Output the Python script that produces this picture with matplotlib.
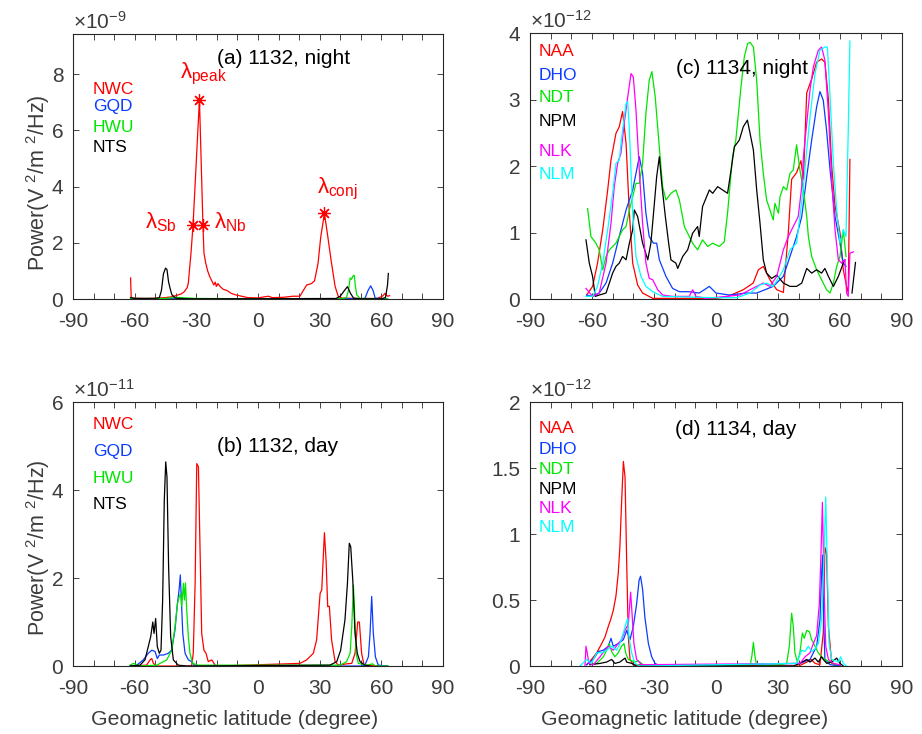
import numpy as np
import matplotlib
matplotlib.use('Agg')
import matplotlib.pyplot as plt
from matplotlib.ticker import MultipleLocator

plt.rcParams['font.family'] = ['Liberation Sans', 'DejaVu Sans']
plt.rcParams['mathtext.fontset'] = 'custom'
plt.rcParams['mathtext.rm'] = 'Liberation Sans'
plt.rcParams['mathtext.it'] = 'Liberation Sans'
plt.rcParams['mathtext.bf'] = 'Liberation Sans:bold'
plt.rcParams['axes.unicode_minus'] = False

RED = '#ff0000'
BLUE = '#0a3cff'
GREEN = '#00e600'
BLACK = '#000000'
MAGENTA = '#ff00ff'
CYAN = '#00ffff'
AX_COLOR = '#262626'
TXT_COLOR = '#3c3c3c'

# (a) 1132, night  -- values in 1e-9
a_nwc_lat = [-62, -61.7, -60, -55, -50, -45, -42, -40, -37.5, -36, -34.5, -33.9, -32.6, -31.6, -28.5,
             -26.8, -26.3, -25.5, -24.5, -23.5, -22.5, -21.5, -20.8, -20.3, -19.5, -18.5, -17, -15, -13,
             -11, -8, -5, 0, 5, 7, 12, 17, 20.4, 22, 23.7, 26, 27.5, 29.2, 30.5, 32.3, 33.8, 35.5, 37.5,
             39, 41, 50, 58, 60.5, 61.8, 63, 64]
a_nwc_pow = [0.75, 0.05, 0.03, 0.02, 0.03, 0.05, 0.08, 0.12, 0.18, 0.25, 0.4, 0.57, 1.64, 2.65, 7.1,
             2.65, 1.64, 1.3, 1.0, 0.8, 0.65, 0.5, 0.6, 0.45, 0.55, 0.45, 0.35, 0.3, 0.2,
             0.15, 0.1, 0.05, 0.04, 0.1, 0.05, 0.06, 0.1, 0.1, 0.3, 0.5, 0.55, 0.65, 1.27, 2.2, 3.05, 2.3,
             1.4, 0.45, 0.1, 0.03, 0.02, 0.02, 0.1, 0.2, 0.1, 0.12]
a_gqd_lat = [-62, -45, -40, -36, 50, 52, 53.5, 54.8, 56, 57, 63]
a_gqd_pow = [0.01, 0.01, 0.03, 0.01, 0.01, 0.02, 0.3, 0.47, 0.3, 0.03, 0.01]
a_hwu_lat = [-62, -45, -40, -35, -30, 0, 40, 43, 44, 44.8, 45.5, 46, 46.8, 47.3, 48, 49.6, 63]
a_hwu_pow = [0.02, 0.02, 0.06, 0.04, 0.02, 0.01, 0.01, 0.05, 0.3, 0.75, 0.7, 0.8, 0.85, 0.5, 0.15, 0.02, 0.01]
a_nts_lat = [-62, -60, -50, -48, -47, -46, -45, -44.3, -43.5, -42.5, -41.9, -40, -35, 0, 38, 40, 42,
             43.5, 45, 46.5, 50, 60, 62, 63, 63.4]
a_nts_pow = [0.05, 0.02, 0.02, 0.05, 0.3, 0.9, 1.1, 1.05, 0.6, 0.3, 0.15, 0.03, 0.01, 0.01, 0.02, 0.1, 0.3,
             0.44, 0.2, 0.03, 0.01, 0.01, 0.05, 0.5, 0.91]
# marked latitudes in (a): peak, south boundary, north boundary, conjugate
a_mark_lat = [-28.5, -31.6, -26.8, 32.3]
a_mark_pow = [7.1, 2.65, 2.65, 3.05]

# (b) 1132, day  -- values in 1e-11
b_nwc_lat = [-62, -54.2, -52.5, -51.7, -50.9, -49.3, -32.3, -31.5, -30.6, -29.8, -29, -28.2, -27.4,
             -26.3, -25.3, -24.2, -22.5, -20.9, -19.3, 20.4, 23.7, 26.9, 28.5, 30.2, 31, 32.3, 33.1,
             33.9, 34.7, 35.8, 37.5, 39.1, 43.1, 45.6, 47.2, 48.5, 49.3, 50.4, 51.6, 63]
b_nwc_pow = [0, 0.02, 0.14, 0.17, 0.06, 0, 0, 0.29, 1.88, 4.6, 4.53, 2.64, 0.74,
             0.36, 0.29, 0.1, 0.14, 0.02, 0, 0.06, 0.14, 0.29, 0.59, 1.65, 1.73, 3.03, 2.41,
             1.35, 1.36, 0.59, 0.1, 0.02, 0.05, 0.06, 0.29, 1.0, 1.0, 0.29, 0.02, 0]
b_gqd_lat = [-62, -59, -55.8, -53.4, -51.7, -50.1, -49, -48, -46, -43.6, -42, -40.4, -39.2, -38.4,
             -37.8, -37.3, -36.6, -35.5, -33.9, -32.3, -30.6, 35, 50, 52, 53.7, 54.5, 55.3, 56.1,
             57.1, 58.5, 63]
b_gqd_pow = [0, 0.02, 0.14, 0.29, 0.36, 0.33, 0.17, 0.25, 0.25, 0.29, 0.36, 0.82, 1.42, 1.73,
             2.07, 1.5, 0.74, 0.29, 0.14, 0.1, 0, 0, 0, 0.02, 0.21, 0.74, 1.58, 0.74,
             0.21, 0.02, 0]
b_hwu_lat = [-62.3, -60.6, -57.4, -49.3, -44.4, -42, -40.4, -39.2, -38.3, -37.6, -37.1, -36.3, -35.8,
             -35.3, -34.7, -33.9, -33.1, -31.8, -29, 39.9, 43.1, 44.8, 45.6, 46.4, 47, 47.7, 48.8,
             52.9, 55.8, 56.9, 63.4]
b_hwu_pow = [0.02, 0.06, 0, 0.02, 0.14, 0.36, 0.89, 1.42, 1.58, 1.65, 1.35, 1.88, 1.5,
             1.89, 1.27, 0.67, 0.29, 0.06, 0.02, 0.02, 0.1, 0.29, 0.89, 1.84, 1.2, 0.29, 0.06,
             0.02, 0.05, 0, 0]
b_nts_lat = [-62.3, -57.4, -55, -53.4, -52.2, -51.2, -50.6, -49.8, -49, -48, -47.2, -46.4, -45.6,
             -44.9, -44.3, -43.5, -42.5, -41.2, -38.8, -34.7, 35, 38.3, 40.2, 42.3, 43.5, 44.4, 45.1,
             46.1, 47.2, 48.3, 49.6, 52, 54.5]
b_nts_pow = [0, 0.02, 0.14, 0.44, 0.67, 1.0, 0.74, 1.08, 0.44, 0.29, 0.36, 1.5, 3.77,
             4.64, 4.3, 2.26, 0.67, 0.14, 0.02, 0, 0.02, 0.1, 0.36, 1.05, 1.88, 2.79, 2.71,
             1.95, 0.74, 0.29, 0.1, 0.02, 0]

# (c) 1134, night  -- values in 1e-12
c_naa_lat = [-62.6, -59.7, -57.3, -54.8, -52.4, -50.8, -48.4, -46.8, -45.2, -43.5, -41.9, -40.3, -37.9,
             -35.5, -30.6, -20, -10, 0, 5, 13.2, 18, 20.5, 22.9, 26.1, 29.4, 32.6, 35, 36.6, 39, 41.1,
             42.3, 43.9, 46.3, 48.7, 51.1, 52.7, 54.4, 56, 57.6, 60, 61.6, 63.2, 64, 64.8]
c_naa_pow = [0.06, 0.19, 0.54, 1.04, 1.64, 2.09, 2.49, 2.59, 2.82, 2.34, 1.29, 0.54, 0.21,
             0.09, 0.01, 0.01, 0.01, 0.01, 0.03, 0.14, 0.24, 0.44, 0.49, 0.29, 0.14, 0.1, 1.0, 1.8, 1.9, 2.08,
             1.8, 3.1, 3.31, 3.56, 3.61, 3.56, 3.0, 2.0, 1.4, 1.0, 0.44, 0.19, 0.09, 2.1]
c_dho_lat = [-62.6, -59.7, -56.5, -53.2, -50, -46.8, -43.5, -40.3, -38.7, -37.1, -35.5, -33.9, -32.3,
             -30.3, -28.7, -27.4, -24.2, -21, -17.7, -12.9, -8.1, -3.2, 0, 6.5, 14.5, 19.7, 27.7, 32.6,
             35.8, 39, 41.5, 43.9, 46.3, 48.7, 50.3, 51.9, 53.5, 55.2, 57.6, 60, 61.6, 62.9]
c_dho_pow = [0.06, 0.04, 0.09, 0.24, 0.54, 0.94, 1.34, 1.64, 1.89, 2.14, 1.89, 1.29, 0.94,
             0.84, 0.84, 0.59, 0.34, 0.16, 0.11, 0.11, 0.09, 0.19, 0.09, 0.06, 0.09, 0.09, 0.19, 0.34,
             0.64, 0.94, 1.24, 1.84, 2.39, 2.89, 3.12, 2.99, 2.54, 1.94, 1.24, 0.84, 0.54, 0.49]
c_ndt_lat = [-62.1, -60.5, -58.1, -56.5, -54.8, -53.2, -51.6, -48.4, -46.8, -45.2, -43.5, -41.9, -40.3,
             -38.7, -37.1, -35.5, -33.9, -32.3, -31, -29.4, -27.7, -25.8, -24.2, -21.8, -19.4, -17.7,
             -15.3, -13.7, -11.3, -8.9, -6.5, -4, -1.6, 1.6, 4, 5.6, 8, 9.6, 12.1, 13.7, 15.3, 16.5,
             18.1, 19.7, 21.3, 22.9, 24.5, 26.1, 27.7, 28.5, 30.2, 31, 32.6, 34.2, 35.8, 37.4, 39,
             40.6, 42.3, 43.9, 44.7, 46.3, 48.7, 51.1, 53.5, 55.2, 56.8, 58.4, 60, 61.6, 62.9]
c_ndt_pow = [1.36, 0.94, 0.84, 0.74, 0.44, 0.64, 0.74, 0.84, 0.94, 1.04, 1.09, 1.34, 1.54,
             1.74, 1.74, 2.04, 2.79, 3.29, 3.42, 3.04, 2.39, 1.69, 1.49, 1.59, 1.64, 1.49,
             1.09, 0.99, 0.84, 0.74, 0.89, 0.79, 0.84, 0.79, 0.86, 1.29, 2.14, 2.39, 3.19, 3.64, 3.84, 3.86,
             3.79, 3.29, 2.39, 1.89, 1.49, 1.34, 1.19, 1.44, 1.29, 1.54, 1.69, 1.64, 1.89, 1.94, 2.32,
             1.94, 1.64, 1.24, 0.94, 0.64, 0.44, 0.29, 0.14, 0.09, 0.24, 0.49, 0.64, 1.04, 0.64]
c_npm_lat = [-62.9, -61.3, -59.7, -58.4, -56.5, -53.2, -51.6, -50, -48.4, -46.8, -45.2, -43.5, -41.9,
             -40.3, -39.5, -37.9, -35.5, -33, -31.5, -29.8, -28.7, -27.4, -26.1, -24.5, -22.9, -21.8,
             -19.4, -18.5, -16.1, -13.7, -11.3, -8.9, -8.1, -6.5, -3.2, -1.6, 0.8, 3.2, 5.6, 7.3, 8.9,
             11.3, 13.2, 15.2, 16.5, 18.1, 19.7, 21.3, 22.9, 24.5, 26.9, 29.4, 32.6, 35.8, 39, 41.5,
             43.9, 46.3, 48.7, 51.1, 52.7, 54.4, 56.8, 59.2, 61.6, 62.4, np.nan, 65.8, 67.5]
c_npm_pow = [0.89, 0.54, 0.34, 0.04, 0.06, 0.09, 0.24, 0.39, 0.49, 0.54, 0.64, 0.59, 0.84,
             1.04, 1.34, 1.24, 0.84, 0.59, 0.84, 1.44, 1.84, 2.14, 1.69, 1.24, 0.84, 0.59,
             0.54, 0.46, 0.64, 0.74, 0.99, 1.09, 0.94, 1.39, 1.64, 1.59, 1.69, 1.64, 1.59, 1.94, 2.29,
             2.39, 2.59, 2.69, 2.49, 2.24, 1.64, 1.14, 0.59, 0.39, 0.31, 0.36, 0.24, 0.19, 0.19, 0.24,
             0.46, 0.39, 0.44, 0.39, 0.46, 0.34, 0.19, 0.34, 0.54, 0.59, np.nan, 0.09, 0.55]
c_nlk_lat = [-62.9, -59.7, -56.5, -53.2, -50.8, -49.2, -47.6, -46, -44.4, -42.7, -41.1, -40, -38.7,
             -37.1, -35.5, -33.9, -32.3, -30.6, -28.2, -25.8, -21, -12.9, -11.3, -9.7, -4.8, 11.6,
             16.5, 19.7, 22.9, 26.1, 29.4, 32.6, 35, 37.4, 39.8, 41.5, 42.3, 43.9, 45.5, 47.1, 49.5,
             51.1, 52.7, 54.4, 56, 57.6, 59.2, 60.8, 62.4, 63.2, 64, 64.8, 66.5]
c_nlk_pow = [0.16, 0.04, 0.09, 0.54, 1.14, 1.69, 2.04, 2.19, 2.64, 3.04, 3.39, 3.34, 2.84,
             1.94, 1.14, 0.54, 0.31, 0.29, 0.14, 0.06, 0.04, 0.04, 0.14, 0.04, 0.01, 0.06,
             0.14, 0.19, 0.24, 0.19, 0.34, 0.74, 0.94, 1.09, 1.24, 1.69, 2.14, 2.64, 3.14, 3.49, 3.74,
             3.79, 3.59, 2.79, 1.79, 1.04, 0.59, 0.54, 0.59, 0.09, 0.04, 0.69, 0.71]
c_nlm_lat = [-62.9, -59.7, -57.3, -54.8, -52.4, -50, -48.4, -46.8, -45.2, -43.5, -42.7, -41.9, -40.3,
             -38.7, -36.3, -33.9, -30.6, -25.8, 0, 10, 16.5, 21.3, 24.5, 27.7, 32.6, 35.8, 39, 40.6,
             42.3, 43.9, 45.5, 47.9, 50.3, 52.7, 53.9, 55.2, 56.8, 58.4, 60, 61.6, 62.9, 64, 64.8]
c_nlm_pow = [0.04, 0.04, 0.19, 0.54, 1.04, 1.59, 2.04, 2.09, 2.54, 2.94, 2.97, 2.54, 1.29,
             0.64, 0.34, 0.19, 0.11, 0.04, 0.02, 0.02, 0.09, 0.21, 0.24, 0.19, 0.44, 0.74, 0.84, 1.24,
             1.69, 2.24, 2.74, 3.39, 3.74, 3.79, 3.79, 3.04, 2.04, 1.34, 0.84, 1.04, 0.94, 2.54, 3.88]

# (d) 1134, day  -- values in 1e-12
d_naa_lat = [-62.6, -60.2, -57.7, -55.3, -53.7, -52.1, -51, -49.7, -48.4, -47.3, -46.5, -45.7, -44.8,
             -44, -43.2, -42.4, -41.6, -40, 40, 44, 46, 48, 50.3, 51.9, 52.7, 53.5, 54.4, 56, 60]
d_naa_pow = [0.01, 0.05, 0.1, 0.17, 0.22, 0.3, 0.35, 0.42, 0.53, 0.7, 0.9, 1.23, 1.55,
             1.43, 0.78, 0.22, 0.05, 0.01, 0.0, 0.03, 0.05, 0.02, 0.01, 0.25, 0.9, 0.85, 0.3, 0.02, 0.0]
d_dho_lat = [-62.6, -59.4, -56.9, -54.5, -52.1, -50.8, -49.7, -47.3, -44.8, -43.2, -41.6, -40, -38.4,
             -37.2, -36.5, -35.5, -34.4, -32.7, -31.1, -29.5, -27.1, 40.6, 45.5, 48.7, 50.3, 51.1,
             51.6, 51.9, 52.7, 55.2, 60]
d_dho_pow = [0.01, 0.05, 0.11, 0.12, 0.15, 0.21, 0.15, 0.17, 0.2, 0.27, 0.2, 0.3, 0.47,
             0.65, 0.68, 0.58, 0.37, 0.17, 0.07, 0.02, 0.0, 0.02, 0.05, 0.15, 0.35, 0.7,
             0.84, 0.47, 0.05, 0.01, 0.0]
d_ndt_lat = [-61, -57.7, -54.5, -52.9, -51.6, -50.5, -48.9, -47.3, -45.7, -44.5, -43.7, -42.4, -39.2,
             -37.6, -35.2, -28.7, 16.5, 17.4, 18.1, 18.8, 19.7, 31, 34.2, 35.5, 36.6, 37.4, 38.2,
             39.4, 40.6, 41.8, 42.7, 43.9, 45.2, 46.3, 47.9, 49.5, 51.1, 52.7, 55.2, 58.4]
d_ndt_pow = [0.01, 0.02, 0.07, 0.12, 0.17, 0.11, 0.07, 0.1, 0.15, 0.17, 0.1, 0.05, 0.03,
             0.04, 0.01, 0.0, 0.0, 0.08, 0.18, 0.08, 0.0, 0.01, 0.02, 0.15, 0.4, 0.3, 0.1,
             0.03, 0.1, 0.25, 0.21, 0.27, 0.26, 0.2, 0.15, 0.1, 0.07, 0.05, 0.03, 0.01]
d_npm_lat = [-61, -56.1, -52.9, -50.5, -48.9, -46.5, -44, -43.2, -40.8, -38.4, 37.4, 40.6, 43.9,
             45.5, 47.9, 49.5, 51.1, 51.9, 53.6, 56, 58.4, 60, 61.6]
d_npm_pow = [0.01, 0.02, 0.03, 0.05, 0.02, 0.03, 0.06, 0.03, 0.02, 0.0, 0.0, 0.02, 0.05,
             0.03, 0.06, 0.03, 0.07, 0.05, 0.02, 0.03, 0.06, 0.02, 0.0]
d_nlk_lat = [-63.4, -62.9, -62.3, -61.5, -59.4, -56.1, -53.7, -52.1, -49.7, -47.3, -45.7, -44, -42.4,
             -41.3, -40.5, -39.7, -38.4, -36, 40.6, 43.1, 45.5, 47.1, 48.7, 50, 50.8, 51.5, 52.3,
             53.1, 54.4, 56.8, 60]
d_nlk_pow = [0.0, 0.15, 0.1, 0.02, 0.01, 0.07, 0.12, 0.15, 0.12, 0.17, 0.2, 0.27, 0.32,
             0.56, 0.37, 0.17, 0.05, 0.01, 0.02, 0.07, 0.1, 0.17, 0.23, 0.47, 0.85, 1.24, 0.6,
             0.15, 0.05, 0.02, 0.01]
d_nlm_lat = [-65.8, -62.6, -60.2, -57.7, -55.3, -52.9, -50.5, -48.1, -46.5, -44.8, -43.6, -42.7, -42.1,
             -40.8, -39.2, -36.8, 39, 41.5, 43.1, 44.7, 46.3, 47.9, 49.5, 51.1, 52.3, 53.1, 53.9,
             54.7, 56, 59.2, 60.3, 61.6, 63.2]
d_nlm_pow = [0.0, 0.05, 0.02, 0.1, 0.1, 0.12, 0.15, 0.12, 0.17, 0.25, 0.32, 0.36, 0.22,
             0.1, 0.02, 0.0, 0.02, 0.12, 0.11, 0.15, 0.11, 0.13, 0.17, 0.35, 0.85, 1.28, 0.73,
             0.17, 0.05, 0.03, 0.07, 0.02, 0.0]


def style_axes(ax, ymax, yticks, yticklabels, exponent):
    ax.set_xlim(-90, 90)
    ax.set_ylim(0, ymax)
    ax.xaxis.set_major_locator(MultipleLocator(30))
    ax.xaxis.set_minor_locator(MultipleLocator(10))
    ax.set_yticks(yticks)
    ax.set_yticklabels(yticklabels)
    ax.tick_params(which='both', direction='in', top=True, right=True, length=4,
                   width=0.6, color=AX_COLOR, labelcolor=TXT_COLOR, labelsize=15)
    ax.tick_params(axis='x', pad=9)
    ax.tick_params(axis='y', pad=7)
    for s in ax.spines.values():
        s.set_color(AX_COLOR)
        s.set_linewidth(0.8)
    ax.text(0.0, 1.004, '\u00d710$^{' + exponent + '}$', transform=ax.transAxes,
            fontsize=15, color=TXT_COLOR, ha='left', va='bottom')


def labels(ax, names, colors, ys, x):
    for n, c, y in zip(names, colors, ys):
        ax.text(x, y, n, color=c, fontsize=12.5, transform=ax.transAxes, ha='left', va='center')


fig = plt.figure(figsize=(9.22, 7.34), dpi=100)
ax_a = fig.add_axes([0.0792, 0.5926, 0.4013, 0.361])
ax_c = fig.add_axes([0.5748, 0.5926, 0.4035, 0.3624])
ax_b = fig.add_axes([0.0792, 0.0926, 0.4013, 0.3597])
ax_d = fig.add_axes([0.5748, 0.0926, 0.4035, 0.3597])

lw = 0.9
ylab = 'Power(V $^2$/m $^2$/Hz)'
xlab = 'Geomagnetic latitude (degree)'

# (a)
ax_a.plot(a_nwc_lat, a_nwc_pow, color=RED, lw=lw)
ax_a.plot(a_gqd_lat, a_gqd_pow, color=BLUE, lw=lw)
ax_a.plot(a_hwu_lat, a_hwu_pow, color=GREEN, lw=lw)
ax_a.plot(a_nts_lat, a_nts_pow, color=BLACK, lw=lw)
ax_a.plot(a_mark_lat, a_mark_pow, ls='none', marker=(8, 2, 0), ms=9, color=RED, mew=0.9)
style_axes(ax_a, 9.43, [0, 2, 4, 6, 8], ['0', '2', '4', '6', '8'], '-9')
ax_a.text(0.57, 0.909, '(a) 1132, night', transform=ax_a.transAxes, fontsize=15, ha='center', va='center')
labels(ax_a, ['NWC', 'GQD', 'HWU', 'NTS'], [RED, BLUE, GREEN, BLACK], [0.789, 0.725, 0.649, 0.570], 0.054)
ax_a.text(-26.7, 8.0, r'$\lambda_{\rm peak}$', color=RED, fontsize=16, ha='center', va='center')
ax_a.text(-47.5, 2.75, r'$\lambda_{\rm Sb}$', color=RED, fontsize=16, ha='center', va='center')
ax_a.text(-13.5, 2.75, r'$\lambda_{\rm Nb}$', color=RED, fontsize=16, ha='center', va='center')
ax_a.text(38.4, 3.9, r'$\lambda_{\rm conj}$', color=RED, fontsize=16, ha='center', va='center')
ax_a.set_ylabel(ylab, fontsize=15.5, color=TXT_COLOR)
ax_a.yaxis.set_label_coords(-0.057, 0.438)

# (b)
ax_b.plot(b_nwc_lat, b_nwc_pow, color=RED, lw=lw)
ax_b.plot(b_gqd_lat, b_gqd_pow, color=BLUE, lw=lw)
ax_b.plot(b_hwu_lat, b_hwu_pow, color=GREEN, lw=lw)
ax_b.plot(b_nts_lat, b_nts_pow, color=BLACK, lw=lw)
style_axes(ax_b, 6, [0, 2, 4, 6], ['0', '2', '4', '6'], '-11')
ax_b.text(0.554, 0.83, '(b) 1132, day', transform=ax_b.transAxes, fontsize=15, ha='center', va='center')
labels(ax_b, ['NWC', 'GQD', 'HWU', 'NTS'], [RED, BLUE, GREEN, BLACK], [0.913, 0.814, 0.712, 0.612], 0.054)
ax_b.set_ylabel(ylab, fontsize=15.5, color=TXT_COLOR)
ax_b.yaxis.set_label_coords(-0.057, 0.447)
ax_b.set_xlabel(xlab, fontsize=15.3, color=TXT_COLOR)
ax_b.xaxis.set_label_coords(0.438, -0.165)

c_names = ['NAA', 'DHO', 'NDT', 'NPM', 'NLK', 'NLM']
c_colors = [RED, BLUE, GREEN, BLACK, MAGENTA, CYAN]

# (c)
ax_c.plot(c_naa_lat, c_naa_pow, color=RED, lw=lw)
ax_c.plot(c_dho_lat, c_dho_pow, color=BLUE, lw=lw)
ax_c.plot(c_ndt_lat, c_ndt_pow, color=GREEN, lw=lw)
ax_c.plot(c_npm_lat, c_npm_pow, color=BLACK, lw=lw)
ax_c.plot(c_nlk_lat, c_nlk_pow, color=MAGENTA, lw=lw)
ax_c.plot(c_nlm_lat, c_nlm_pow, color=CYAN, lw=lw)
style_axes(ax_c, 4, [0, 1, 2, 3, 4], ['0', '1', '2', '3', '4'], '-12')
ax_c.text(0.57, 0.868, '(c) 1134, night', transform=ax_c.transAxes, fontsize=15, ha='center', va='center')
labels(ax_c, c_names, c_colors, [0.932, 0.842, 0.756, 0.669, 0.556, 0.47], 0.024)

# (d)
ax_d.plot(d_naa_lat, d_naa_pow, color=RED, lw=lw)
ax_d.plot(d_dho_lat, d_dho_pow, color=BLUE, lw=lw)
ax_d.plot(d_ndt_lat, d_ndt_pow, color=GREEN, lw=lw)
ax_d.plot(d_npm_lat, d_npm_pow, color=BLACK, lw=lw)
ax_d.plot(d_nlk_lat, d_nlk_pow, color=MAGENTA, lw=lw)
ax_d.plot(d_nlm_lat, d_nlm_pow, color=CYAN, lw=lw)
style_axes(ax_d, 2, [0, 0.5, 1, 1.5, 2], ['0', '0.5', '1', '1.5', '2'], '-12')
ax_d.text(0.554, 0.894, '(d) 1134, day', transform=ax_d.transAxes, fontsize=15, ha='center', va='center')
labels(ax_d, c_names, c_colors, [0.898, 0.822, 0.746, 0.670, 0.595, 0.523], 0.024)
ax_d.set_xlabel(xlab, fontsize=15.3, color=TXT_COLOR)
ax_d.xaxis.set_label_coords(0.417, -0.165)

fig.savefig('out.png', dpi=100)
